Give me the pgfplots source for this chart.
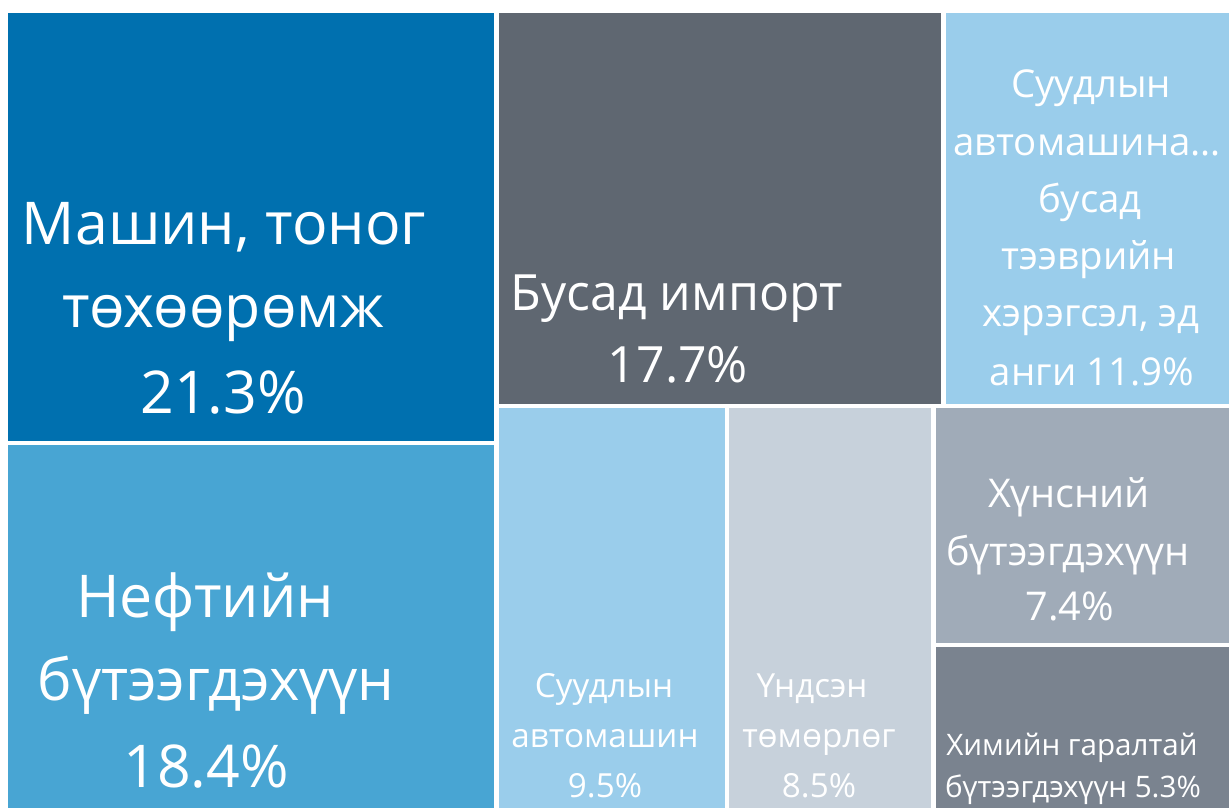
\documentclass[border=0pt]{standalone}
\usepackage{fontspec}
\setmainfont{Open Sans}
\usepackage{pgfplots}
\pgfplotsset{compat=1.18}
\definecolor{cA}{RGB}{0,112,175}
\definecolor{cB}{RGB}{72,165,211}
\definecolor{cC}{RGB}{95,103,113}
\definecolor{cD}{RGB}{154,205,235}
\definecolor{cF}{RGB}{199,209,219}
\definecolor{cG}{RGB}{160,171,184}
\definecolor{cH}{RGB}{122,131,143}
\newcommand{\fs}[1]{\fontsize{#1}{#1}\selectfont}
\tikzset{lbl/.style={text=white, inner sep=0pt, outer sep=0pt, anchor=base, font=\fs{#1}}}
\begin{document}
\begin{tikzpicture}
\path[use as bounding box, clip] (0,0) rectangle (614.5pt,403.5pt);
\begin{axis}[
  at={(0,0)}, anchor=south west,
  width=614.5pt, height=403.5pt, scale only axis,
  xmin=0, xmax=1229, ymin=0, ymax=807, y dir=reverse,
  hide axis, clip=false,
]
% rectangles: (x1,y1) (x2,y1) (x2,y2) (x1,y2) in pixel units
\addplot[fill=cA, draw=none] coordinates {(8,13) (494,13) (494,441) (8,441)};
\addplot[fill=cB, draw=none] coordinates {(8,445) (494,445) (494,812) (8,812)};
\addplot[fill=cC, draw=none] coordinates {(499,13) (941,13) (941,404) (499,404)};
\addplot[fill=cD, draw=none] coordinates {(945.5,13) (1232,13) (1232,404) (945.5,404)};
\addplot[fill=cD, draw=none] coordinates {(499,408) (724.5,408) (724.5,812) (499,812)};
\addplot[fill=cF, draw=none] coordinates {(729,408) (931,408) (931,812) (729,812)};
\addplot[fill=cG, draw=none] coordinates {(935.5,408) (1232,408) (1232,642.5) (935.5,642.5)};
\addplot[fill=cH, draw=none] coordinates {(935.5,647) (1232,647) (1232,812) (935.5,812)};

% labels
\node[lbl=29.5] at (axis cs:224,245) {Машин, тоног};
\node[lbl=29.5] at (axis cs:223,328) {төхөөрөмж};
\node[lbl=29.5] at (axis cs:223,413) {21.3\%};

\node[lbl=29.5] at (axis cs:205,617) {Нефтийн};
\node[lbl=29] at (axis cs:216,700) {бүтээгдэхүүн};
\node[lbl=29.5] at (axis cs:206,787) {18.4\%};

\node[lbl=25] at (axis cs:677,310) {Бусад импорт};
\node[lbl=25] at (axis cs:678,382) {17.7\%};

\node[lbl=19.2] at (axis cs:1091,98) {Суудлын};
\node[lbl=19.2] at (axis cs:1087,155.5) {автомашина…};
\node[lbl=19.2] at (axis cs:1090,213) {бусад};
\node[lbl=19.2] at (axis cs:1089,270) {тээврийн};
\node[lbl=19.2] at (axis cs:1091,327) {хэрэгсэл, эд};
\node[lbl=19.2] at (axis cs:1092,385) {анги 11.9\%};

\node[lbl=16.6] at (axis cs:604,697) {Суудлын};
\node[lbl=16.6] at (axis cs:605,747) {автомашин};
\node[lbl=16.6] at (axis cs:605,797) {9.5\%};

\node[lbl=16.6] at (axis cs:812,697) {Үндсэн};
\node[lbl=16.6] at (axis cs:819,747) {төмөрлөг};
\node[lbl=16.6] at (axis cs:819,797) {8.5\%};

\node[lbl=19.8] at (axis cs:1069,507) {Хүнсний};
\node[lbl=19.8] at (axis cs:1068,565) {бүтээгдэхүүн};
\node[lbl=19.8] at (axis cs:1070,620) {7.4\%};

\node[lbl=14.8] at (axis cs:1072,755) {Химийн гаралтай};
\node[lbl=14.8] at (axis cs:1073,797) {бүтээгдэхүүн 5.3\%};
\end{axis}
\end{tikzpicture}
\end{document}
